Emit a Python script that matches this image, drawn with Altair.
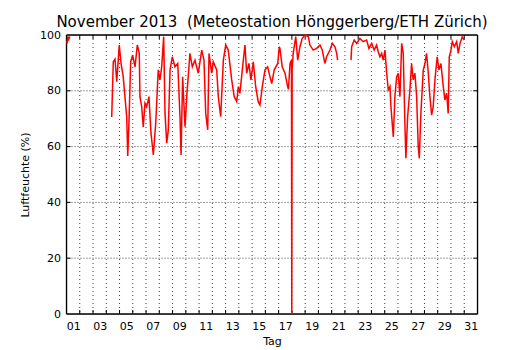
import altair as alt
import pandas as pd

# Relative humidity readings (day of month as fractional days since Nov 1 00:00)
seg_a_day = [0.00, 0.05, 0.10, 0.17, 0.25]
seg_a_rh = [98.0, 97.0, 99.5, 98.5, 99.5]

seg_b_day = [3.41, 3.53, 3.66, 3.79, 3.98, 4.11, 4.28, 4.54, 4.62, 4.71, 4.84, 4.99,
             5.17, 5.34, 5.49, 5.54, 5.67, 5.79, 5.92, 6.05, 6.22, 6.37, 6.55, 6.73,
             6.92, 7.05, 7.18, 7.33, 7.43, 7.56, 7.68, 7.81, 7.98, 8.18, 8.39, 8.56,
             8.64, 8.76, 8.94, 9.07, 9.31, 9.49, 9.69, 9.94, 10.20, 10.37, 10.50, 10.65,
             10.75, 10.95, 11.07, 11.33, 11.45, 11.63, 11.83, 12.01, 12.20, 12.46, 12.65, 12.84,
             12.96, 13.08, 13.26, 13.46, 13.59, 13.76, 13.91, 14.09, 14.27, 14.46, 14.59, 14.77,
             14.97, 15.17, 15.35, 15.48, 15.67, 15.93, 16.05, 16.10, 16.27, 16.48, 16.68, 16.74,
             16.86, 16.97, 16.99, 17.02, 17.10, 17.29, 17.44, 17.61, 17.78, 17.99, 18.24, 18.36,
             18.61, 18.87, 19.12, 19.29, 19.49, 19.62, 19.87, 20.05, 20.25, 20.38, 20.45]
seg_b_rh = [70.6, 90.4, 91.3, 83.3, 96.4, 90.0, 85.0, 70.7, 56.6, 68.5, 90.4, 92.8,
            88.6, 96.4, 93.4, 77.9, 74.3, 67.0, 75.6, 74.3, 77.9, 64.9, 57.0, 68.4,
            87.5, 83.9, 88.6, 99.4, 71.9, 61.2, 66.0, 87.5, 92.2, 88.6, 89.8, 70.7,
            57.0, 85.0, 67.1, 77.9, 93.4, 88.6, 91.0, 86.3, 94.6, 91.0, 71.9, 66.0,
            93.4, 86.3, 90.4, 87.5, 77.9, 70.7, 91.0, 96.4, 94.6, 83.9, 77.9, 76.1,
            81.5, 79.1, 87.5, 96.4, 86.3, 89.8, 83.9, 90.4, 81.5, 76.1, 74.9, 81.5,
            87.5, 88.6, 85.0, 82.6, 87.5, 89.8, 95.8, 95.2, 88.6, 86.3, 81.5, 80.5,
            89.8, 91.0, 0.0, 88.0, 93.4, 99.4, 91.0, 95.8, 98.8, 100.0, 99.4, 96.4,
            94.6, 95.2, 96.4, 94.6, 89.8, 92.2, 94.6, 97.0, 95.8, 93.4, 91.0]

seg_c_day = [21.46, 21.51, 21.70, 21.89, 22.13, 22.38, 22.64, 22.81, 23.02, 23.21, 23.39, 23.51,
             23.64, 23.77, 23.89, 24.02, 24.15, 24.27, 24.40, 24.47, 24.65, 24.77, 24.90, 25.02,
             25.15, 25.28, 25.40, 25.53, 25.60, 25.73, 25.90, 26.03, 26.15, 26.28, 26.41, 26.53,
             26.61, 26.73, 26.91, 27.04, 27.16, 27.29, 27.41, 27.54, 27.66, 27.79, 27.96, 28.09,
             28.24, 28.42, 28.54, 28.67, 28.79, 28.87, 29.00, 29.10, 29.25, 29.43, 29.55, 29.68,
             29.85, 30.00]
seg_c_rh = [91.0, 95.8, 98.2, 97.0, 98.8, 97.6, 98.2, 95.2, 97.0, 94.6, 96.4, 94.0,
            92.2, 93.4, 91.0, 94.6, 86.3, 80.3, 81.5, 74.3, 63.5, 77.9, 85.0, 86.3,
            77.9, 97.0, 93.4, 67.1, 55.8, 70.7, 80.3, 89.8, 83.9, 86.3, 77.9, 60.0,
            55.8, 71.9, 87.5, 89.8, 93.4, 86.3, 77.9, 71.3, 74.3, 83.9, 92.2, 87.5,
            89.8, 81.5, 76.7, 79.1, 71.9, 92.2, 94.6, 97.6, 95.8, 97.6, 93.4, 97.0,
            99.4, 98.2]

label_days = [0.5 + 2 * i for i in range(16)]     # labels 01, 03, ..., 31 at midday
tick_days = list(range(1, 31))                    # day boundaries
y_ticks = [0, 20, 40, 60, 80, 100]
y_grid = [20, 40, 60, 80]

W, H = 411, 279
FONT = "DejaVu Sans"

rows = []
for seg, (ds, vs) in enumerate([(seg_a_day, seg_a_rh), (seg_b_day, seg_b_rh), (seg_c_day, seg_c_rh)]):
    for d, v in zip(ds, vs):
        rows.append({"day": d, "rh": v, "seg": seg})
df = pd.DataFrame(rows)
vdf = pd.DataFrame({"day": tick_days})
hdf = pd.DataFrame({"rh": y_grid})
one = pd.DataFrame({"k": [0]})

xscale = alt.Scale(domain=[0, 31], nice=False, zero=False)
yscale = alt.Scale(domain=[0, 100], nice=False)

xaxis = alt.Axis(
    values=label_days,
    labelExpr="(floor(datum.value) + 1 < 10 ? '0' : '') + (floor(datum.value) + 1)",
    ticks=False, grid=False, domain=False, title="Tag",
    labelFont=FONT, labelFontSize=11, labelColor="black", labelPadding=6,
    titleFont=FONT, titleFontSize=11, titleFontWeight="normal", titleColor="black",
    titlePadding=4, labelFlush=False)
yaxis = alt.Axis(
    values=y_ticks, ticks=False, grid=False, domain=False,
    title="Luftfeuchte (%)",
    labelFont=FONT, labelFontSize=11, labelColor="black", labelPadding=6,
    titleFont=FONT, titleFontSize=11, titleFontWeight="normal", titleColor="black",
    titlePadding=9, labelFlush=False)

X = alt.X("day:Q", scale=xscale, axis=xaxis)
Y = alt.Y("rh:Q", scale=yscale, axis=yaxis)

line = alt.Chart(df).mark_line(color="#ff0000", strokeWidth=1.5).encode(
    x=X, y=Y, detail="seg:N", order="day:Q")

vgrid = alt.Chart(vdf).mark_rule(color="black", strokeWidth=1, strokeDash=[1, 3], opacity=0.75).encode(x=X)
hgrid = alt.Chart(hdf).mark_rule(color="black", strokeWidth=1, strokeDash=[1, 2], opacity=0.75).encode(y=Y)

tick_b = alt.Chart(vdf).mark_rule(color="black", strokeWidth=1).encode(
    x=X, y=alt.value(H), y2=alt.value(H - 4))
tick_t = alt.Chart(vdf).mark_rule(color="black", strokeWidth=1).encode(
    x=X, y=alt.value(0), y2=alt.value(4))
tick_l = alt.Chart(hdf).mark_rule(color="black", strokeWidth=1).encode(
    y=Y, x=alt.value(0), x2=alt.value(4))
tick_r = alt.Chart(hdf).mark_rule(color="black", strokeWidth=1).encode(
    y=Y, x=alt.value(W), x2=alt.value(W - 4))

frame_style = dict(color="black", strokeWidth=1.3)
fr_top = alt.Chart(one).mark_rule(**frame_style).encode(x=alt.value(0), x2=alt.value(W), y=alt.value(0))
fr_bot = alt.Chart(one).mark_rule(**frame_style).encode(x=alt.value(0), x2=alt.value(W), y=alt.value(H))
fr_left = alt.Chart(one).mark_rule(**frame_style).encode(y=alt.value(0), y2=alt.value(H), x=alt.value(0))
fr_right = alt.Chart(one).mark_rule(**frame_style).encode(y=alt.value(0), y2=alt.value(H), x=alt.value(W))

chart = alt.layer(vgrid, hgrid, tick_b, tick_t, tick_l, tick_r,
                  fr_top, fr_bot, fr_left, fr_right, line).properties(
    width=W, height=H,
    title=alt.TitleParams("November 2013\u00a0 (Meteostation Hönggerberg/ETH Zürich)",
                          font=FONT, fontSize=15, fontWeight="normal", color="black",
                          anchor="middle", frame="group", offset=-1),
    padding={"left": 58.5, "top": 27, "right": 20, "bottom": 40},
    autosize=alt.AutoSizeParams(type="none"),
).configure_view(stroke=None).configure(background="white")

chart.save("out.html", embed_options={"renderer": "svg", "actions": False})
